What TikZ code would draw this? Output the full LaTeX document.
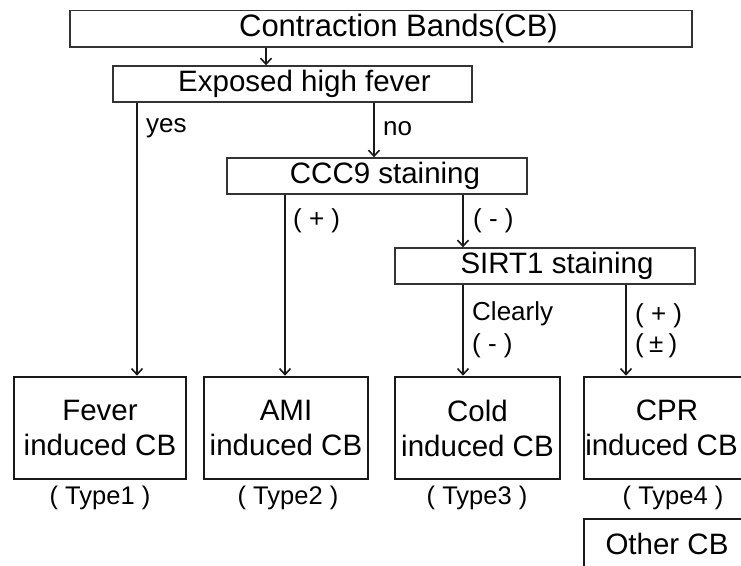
\documentclass[tikz,border=0pt]{standalone}
\usepackage{fontspec}
\setmainfont{Liberation Sans}
\usetikzlibrary{arrows.meta}
\tikzset{
  box/.style={draw=black!80, line width=1.4pt, rectangle, inner sep=0pt, align=center,
    font=\fontsize{29.5}{35}\selectfont},
  bigbox/.style={draw=black!90, line width=2.6pt, rectangle, inner sep=0pt, align=center,
    font=\fontsize{29.5}{35}\selectfont},
  lbl/.style={inner sep=0pt, anchor=west, font=\fontsize{26}{30}\selectfont},
  typ/.style={inner sep=0pt, font=\fontsize{25.5}{30}\selectfont},
  arr/.style={line width=1.6pt, black!90, -{Straight Barb[length=6pt,width=11pt,line width=1.6pt]}},
  ln/.style={line width=1.6pt, black!90}
}
\begin{document}
\begin{tikzpicture}[x=1pt,y=-1pt]
\useasboundingbox (0,0) rectangle (741,565);
% boxes
\node[box, minimum width=622pt, minimum height=36.5pt, font=\fontsize{31}{36}\selectfont] (cb) at (381,28.8) {\hspace*{35pt}Contraction Bands(CB)};
\node[box, minimum width=359pt, minimum height=36pt] (ehf) at (292.5,84) {\hspace*{24pt}Exposed high fever};
\node[box, minimum width=300pt, minimum height=36pt] (ccc) at (377,176) {\hspace*{16pt}CCC9 staining};
\node[box, minimum width=300pt, minimum height=36pt] (sirt) at (545,266) {\hspace*{24pt}SIRT1 staining};
\node[bigbox, minimum width=172pt, minimum height=102pt] (fever) at (100,428) {Fever\\induced CB};
\node[bigbox, minimum width=164pt, minimum height=102pt] (ami) at (286,428) {AMI\\induced CB};
\node[bigbox, minimum width=165pt, minimum height=102pt] (cold) at (477.5,428) {Cold\\induced CB};
\node[bigbox, minimum width=166pt, minimum height=102pt] (cpr) at (667,428) {CPR\\induced CB\hspace*{11pt}};
\node[bigbox, minimum width=166pt, minimum height=50pt] (other) at (667,544) {Other CB};
% type labels
\node[typ] (t1) at (100,498) {( Type1 )};
\node[typ] (t2) at (288,498) {( Type2 )};
\node[typ] (t3) at (477,498) {( Type3 )};
\node[typ] (t4) at (673,498) {( Type4 )};
% x positions of connectors
\coordinate (xa) at (266,0);
\coordinate (xyes) at (137,0);
\coordinate (xno) at (374,0);
\coordinate (xplus) at (285,0);
\coordinate (xminus) at (463,0);
\coordinate (xpm) at (626,0);
% connectors
\draw[arr] (cb.south -| xa) -- (ehf.north -| xa);
\draw[arr] (ehf.south -| xyes) -- (fever.north -| xyes);
\draw[arr] (ehf.south -| xno) -- (ccc.north -| xno);
\draw[arr] (ccc.south -| xplus) -- (ami.north -| xplus);
\draw[arr] (ccc.south -| xminus) -- (sirt.north -| xminus);
\draw[arr] (sirt.south -| xminus) -- (cold.north -| xminus);
\draw[arr] (sirt.south -| xpm) -- (cpr.north -| xpm);
% connector labels
\node[lbl] (lyes) at (146,128) {yes};
\node[lbl] (lno) at (383,129) {no};
\node[lbl] (lp1) at (293,221) {( + )};
\node[lbl] (lm1) at (473,221) {( - )};
\node[lbl] (lcl) at (472,314) {Clearly};
\node[lbl] (lm2) at (472,346) {( - )};
\node[lbl] (lp2) at (635,316) {( + )};
\node[lbl] (lpm) at (635,346) {(\hspace{0.2em}±\hspace{0.2em})};
\end{tikzpicture}
\end{document}
